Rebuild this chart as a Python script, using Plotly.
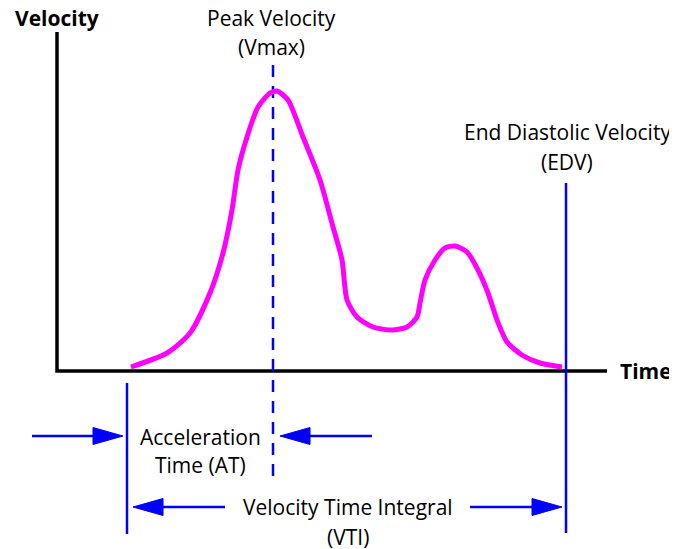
import plotly.graph_objects as go

# Doppler waveform, time / velocity in arbitrary units (origin at axis corner)
time = [74, 110, 133, 153, 166, 175, 181, 190, 201, 213, 220, 231, 246, 263, 276, 285, 290,
        300, 316, 335, 350, 360, 363, 368, 378, 388, 398, 410, 421, 431, 440, 450, 465, 483, 505]
velocity = [4, 18, 38, 78, 118, 161, 201, 234, 264, 278, 280, 271, 234, 191, 144, 111, 71,
            54, 44, 41, 44, 54, 68, 91, 111, 123, 125, 119, 101, 78, 51, 29, 16, 8, 4]

# marker lines
peak_t = 216
at_start_t = 70
edv_t = 509

# arrows: (tail, tip, level)
arrows = [(-25, 66, -65), (315, 223, -65), (168, 76, -136), (413, 505, -136)]

BLUE = '#0000FF'
MAGENTA = '#FF00FF'
FONT = 'Open Sans'

fig = go.Figure()

# axes drawn as lines
fig.add_trace(go.Scatter(x=[0, 0, 550], y=[339, 0, 0], mode='lines',
                         line=dict(color='black', width=3.5)))

# vertical markers
fig.add_trace(go.Scatter(x=[peak_t, peak_t], y=[306, -109], mode='lines',
                         line=dict(color=BLUE, width=2.5, dash='12px,9px')))
fig.add_trace(go.Scatter(x=[at_start_t, at_start_t], y=[-12, -163], mode='lines',
                         line=dict(color=BLUE, width=2.5)))
fig.add_trace(go.Scatter(x=[edv_t, edv_t], y=[188, -162], mode='lines',
                         line=dict(color=BLUE, width=2.5)))

# waveform
fig.add_trace(go.Scatter(x=time, y=velocity, mode='lines',
                         line=dict(color=MAGENTA, width=5, shape='spline', smoothing=0.7)))

# arrows with filled heads
HEAD_LEN = 30
HEAD_HW = 8.5
for tail, tip, lvl in arrows:
	d = 1 if tip > tail else -1
	base = tip - d * HEAD_LEN
	fig.add_trace(go.Scatter(x=[tail, base], y=[lvl, lvl], mode='lines',
	                         line=dict(color=BLUE, width=2.5)))
	fig.add_trace(go.Scatter(x=[base, tip, base, base], y=[lvl + HEAD_HW, lvl, lvl - HEAD_HW, lvl + HEAD_HW],
	                         mode='lines', fill='toself', fillcolor=BLUE,
	                         line=dict(color=BLUE, width=1)))

# labels
labels = [
	('<b>Velocity</b>', 0, 353),
	('Peak Velocity', 214, 353),
	('(Vmax)', 214, 324),
	('End Diastolic Velocity', 510, 239),
	('(EDV)', 510, 209),
	('<b>Time</b>', 589, 0),
	('Acceleration', 143, -66),
	('Time (AT)', 143, -94),
	('Velocity Time Integral', 291, -136),
	('(VTI)', 291, -166),
]
for txt, x, y in labels:
	fig.add_annotation(x=x, y=y, text=txt, showarrow=False, xanchor='center', yanchor='middle',
	                   font=dict(family=FONT, size=21, color='black'))

# page body adds an 8px offset, so ranges start 8 units in
fig.update_layout(width=677, height=549, margin=dict(l=0, r=0, t=0, b=0),
                  paper_bgcolor='white', plot_bgcolor='white', showlegend=False)
fig.update_xaxes(range=[-49, 628], visible=False)
fig.update_yaxes(range=[-186, 363], visible=False)

fig.write_html('out.html')
